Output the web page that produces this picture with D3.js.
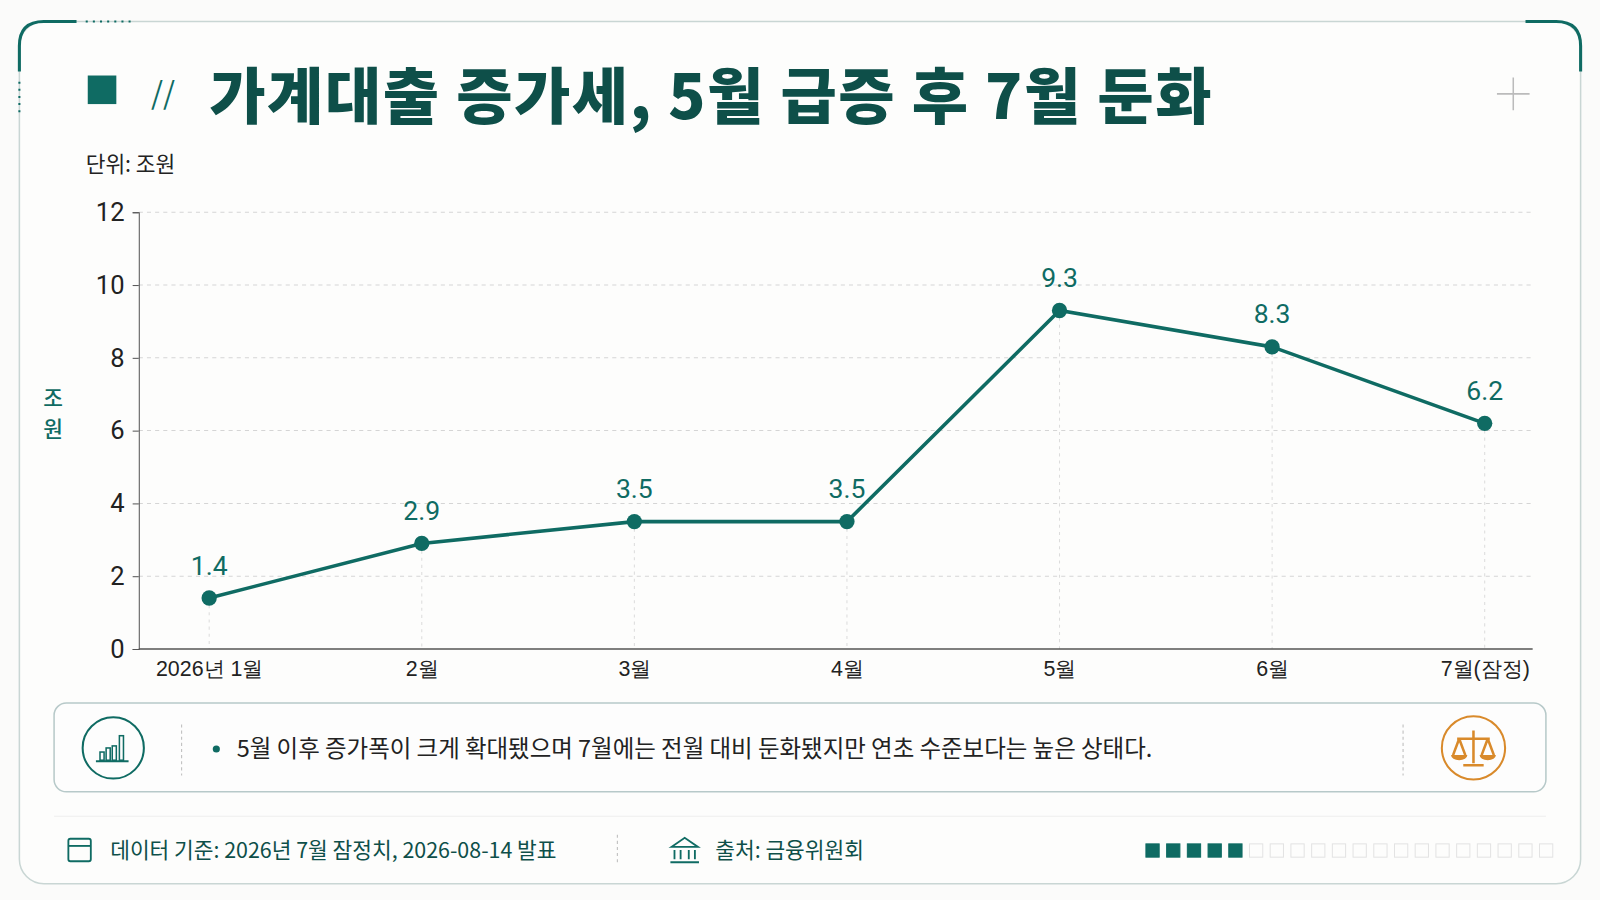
<!DOCTYPE html>
<html><head><meta charset="utf-8">
<script src="https://cdn.jsdelivr.net/npm/d3@7"></script>
<style>body{margin:0;background:#fbfbfa;font-family:"Noto Sans CJK KR","Noto Sans",sans-serif;}</style>
</head><body><div id="container"></div>
<script>
const W = 1600, H = 900;
const TEAL = "#0f6b63", DARK = "#0e4f49", ORANGE = "#d98a2b";
const data = [
  { m: "2026년 1월", v: 1.4 }, { m: "2월", v: 2.9 }, { m: "3월", v: 3.5 },
  { m: "4월", v: 3.5 }, { m: "5월", v: 9.3 }, { m: "6월", v: 8.3 }, { m: "7월(잠정)", v: 6.2 }
];
const M = { left: 136, right: 1502, top: 208, bottom: 636 };

const root = d3.select("#container").append("svg").attr("width", W).attr("height", H)
  .style("font-family", '"Noto Sans CJK KR","Noto Sans",sans-serif');
const svg = root.append("g").attr("transform", `scale(${1600 / 1568})`);

// card frame
svg.append("rect").attr("x", 19).attr("y", 21).attr("width", 1530).attr("height", 845)
  .attr("rx", 24).attr("fill", "#fdfdfc").attr("stroke", "#c9d6d4").attr("stroke-width", 1.5);
svg.append("path").attr("d", "M19,70 L19,45 Q19,21 43,21 L75,21").attr("fill", "none")
  .attr("stroke", TEAL).attr("stroke-width", 3);
svg.append("path").attr("d", "M1495,21 L1525,21 Q1549,21 1549,45 L1549,70").attr("fill", "none")
  .attr("stroke", TEAL).attr("stroke-width", 3);
svg.append("line").attr("x1", 84).attr("x2", 128).attr("y1", 21).attr("y2", 21)
  .attr("stroke", TEAL).attr("stroke-width", 2).attr("stroke-dasharray", "2,5");
svg.append("line").attr("x1", 19).attr("x2", 19).attr("y1", 80).attr("y2", 110)
  .attr("stroke", TEAL).attr("stroke-width", 2).attr("stroke-dasharray", "2,5");

// title
svg.append("rect").attr("x", 86).attr("y", 74).attr("width", 28).attr("height", 28).attr("fill", TEAL);
svg.append("text").attr("x", 148).attr("y", 102).attr("fill", TEAL).attr("font-size", 30).text("//");
svg.append("text").attr("x", 205).attr("y", 117).attr("fill", DARK).attr("font-size", 60)
  .attr("font-weight", 900).attr("letter-spacing", 1.5).text("가계대출 증가세, 5월 급증 후 7월 둔화");
svg.append("path").attr("d", "M1467,92 H1499 M1483,76 V108").attr("stroke", "#bbb").attr("stroke-width", 1.5);
svg.append("text").attr("x", 84).attr("y", 169).attr("font-size", 21).attr("fill", "#222").text("단위: 조원");

// scales
const x = d3.scalePoint().domain(data.map(d => d.m)).range([205, 1455]);
const y = d3.scaleLinear().domain([0, 12]).range([M.bottom, M.top]);

const grid = svg.append("g");
grid.selectAll("line.h").data(d3.range(2, 13, 2)).join("line")
  .attr("x1", M.left).attr("x2", M.right).attr("y1", d => y(d)).attr("y2", d => y(d))
  .attr("stroke", "#d5d5d5").attr("stroke-dasharray", "4,4");
grid.selectAll("line.v").data(data).join("line")
  .attr("x1", d => x(d.m)).attr("x2", d => x(d.m)).attr("y1", d => y(d.v)).attr("y2", M.bottom)
  .attr("stroke", "#dcdcdc").attr("stroke-dasharray", "3,4");

const yAxis = svg.append("g").attr("transform", `translate(${M.left},0)`)
  .call(d3.axisLeft(y).tickValues(d3.range(0, 13, 2)).tickSize(6).tickPadding(8));
yAxis.select(".domain").attr("stroke", "#555");
yAxis.selectAll("line").attr("stroke", "#555");
yAxis.selectAll("text").attr("font-size", 25).attr("fill", "#222").attr("font-family", "Roboto,sans-serif");

const xAxis = svg.append("g").attr("transform", `translate(0,${M.bottom})`)
  .call(d3.axisBottom(x).tickSize(0).tickPadding(12));
xAxis.select(".domain").attr("d", `M${M.left},0H${M.right}`).attr("stroke", "#555").attr("stroke-width", 1.5);
xAxis.selectAll("text").attr("font-size", 21).attr("fill", "#222");

svg.append("text").attr("x", 52).attr("y", 398).attr("text-anchor", "middle").attr("fill", TEAL)
  .attr("font-size", 21).attr("font-weight", 500).text("조");
svg.append("text").attr("x", 52).attr("y", 428).attr("text-anchor", "middle").attr("fill", TEAL)
  .attr("font-size", 21).attr("font-weight", 500).text("원");

// line
svg.append("path").datum(data)
  .attr("d", d3.line().x(d => x(d.m)).y(d => y(d.v)))
  .attr("fill", "none").attr("stroke", TEAL).attr("stroke-width", 3.5);
svg.selectAll("circle.pt").data(data).join("circle")
  .attr("cx", d => x(d.m)).attr("cy", d => y(d.v)).attr("r", 7.5).attr("fill", TEAL);
svg.selectAll("text.lbl").data(data).join("text")
  .attr("x", d => x(d.m)).attr("y", d => y(d.v) - 23).attr("text-anchor", "middle")
  .attr("fill", TEAL).attr("font-size", 26).attr("font-family", "Roboto,sans-serif")
  .text(d => d.v.toFixed(1));

// insight box
svg.append("rect").attr("x", 53).attr("y", 689).attr("width", 1462).attr("height", 87).attr("rx", 12)
  .attr("fill", "#fdfdfd").attr("stroke", "#b7c9c9").attr("stroke-width", 1.5);
svg.append("circle").attr("cx", 111).attr("cy", 733).attr("r", 30).attr("fill", "none").attr("stroke", TEAL).attr("stroke-width", 2);
const bars = [[98, 8], [104, 12], [110, 14], [117, 24]];
svg.selectAll("rect.ic").data(bars).join("rect").attr("x", d => d[0]).attr("y", d => 745 - d[1])
  .attr("width", 4).attr("height", d => d[1]).attr("fill", "none").attr("stroke", TEAL).attr("stroke-width", 1.5);
svg.append("line").attr("x1", 94).attr("x2", 126).attr("y1", 746).attr("y2", 746).attr("stroke", TEAL).attr("stroke-width", 2);
[178, 1375].forEach(xx => svg.append("line").attr("x1", xx).attr("x2", xx).attr("y1", 710).attr("y2", 760)
  .attr("stroke", "#bbb").attr("stroke-dasharray", "3,3"));
svg.append("circle").attr("cx", 212).attr("cy", 734).attr("r", 3.5).attr("fill", TEAL);
svg.append("text").attr("x", 232).attr("y", 742).attr("font-size", 23).attr("fill", "#222")
  .text("5월 이후 증가폭이 크게 확대됐으며 7월에는 전월 대비 둔화됐지만 연초 수준보다는 높은 상태다.");
svg.append("circle").attr("cx", 1444).attr("cy", 733).attr("r", 31).attr("fill", "none").attr("stroke", ORANGE).attr("stroke-width", 2);
svg.append("path").attr("d", "M1444,716 V748 M1434,750 H1454 M1428,724 H1460 M1430,724 L1424,740 M1430,724 L1436,740 M1458,724 L1452,740 M1458,724 L1464,740")
  .attr("stroke", ORANGE).attr("stroke-width", 2.5).attr("fill", "none");
svg.append("path").attr("d", "M1422,740 A8,5 0 0 0 1438,740 Z M1450,740 A8,5 0 0 0 1466,740 Z").attr("fill", ORANGE);

// footer
svg.append("line").attr("x1", 53).attr("x2", 1515).attr("y1", 800).attr("y2", 800).attr("stroke", "#eee");
svg.append("rect").attr("x", 67).attr("y", 822).attr("width", 22).attr("height", 22).attr("rx", 2)
  .attr("fill", "none").attr("stroke", TEAL).attr("stroke-width", 1.8);
svg.append("line").attr("x1", 67).attr("x2", 89).attr("y1", 829).attr("y2", 829).attr("stroke", TEAL).attr("stroke-width", 1.8);
svg.append("text").attr("x", 108).attr("y", 841).attr("font-size", 21).attr("fill", DARK)
  .text("데이터 기준: 2026년 7월 잠정치, 2026-08-14 발표");
svg.append("line").attr("x1", 605).attr("x2", 605).attr("y1", 818).attr("y2", 848).attr("stroke", "#bbb").attr("stroke-dasharray", "3,3");
svg.append("path").attr("d", "M658,830 L671,821 L684,830 Z M661,833 V842 M667,833 V842 M675,833 V842 M681,833 V842 M657,845 H685")
  .attr("stroke", TEAL).attr("stroke-width", 1.8).attr("fill", "none");
svg.append("text").attr("x", 701).attr("y", 841).attr("font-size", 21).attr("fill", DARK).text("출처: 금융위원회");
svg.selectAll("rect.pg").data(d3.range(20)).join("rect")
  .attr("x", i => 1123 + i * 20.3).attr("y", 827).attr("width", 13).attr("height", 13)
  .attr("fill", i => i < 5 ? TEAL : "none").attr("stroke", i => i < 5 ? TEAL : "#e3e3e3");
</script></body></html>
